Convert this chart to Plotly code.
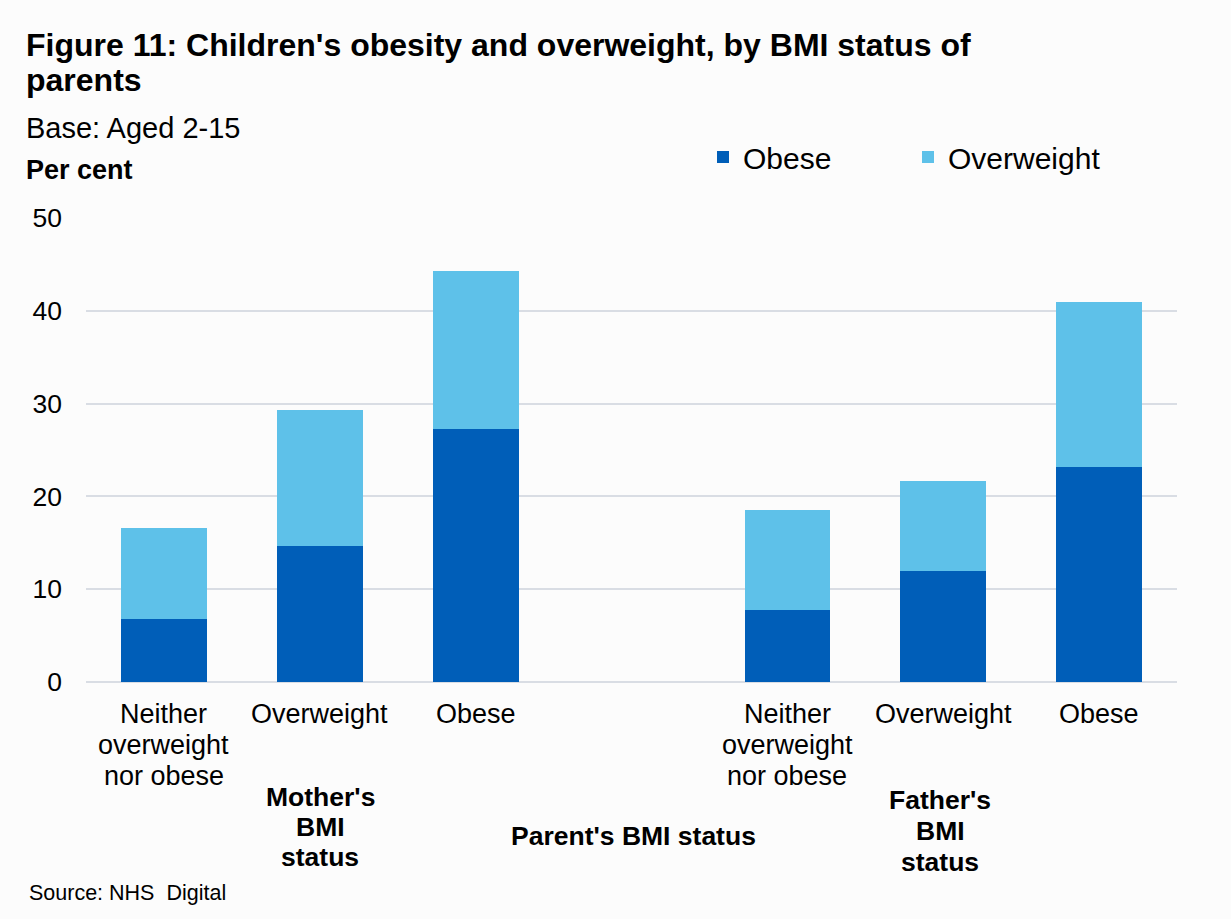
import plotly.graph_objects as go

# Children's obesity / overweight prevalence (%) by parent's BMI status
categories = [
    ["Neither", "overweight", "nor obese"], ["Overweight"], ["Obese"],   # mother's BMI
    ["Neither", "overweight", "nor obese"], ["Overweight"], ["Obese"],   # father's BMI
]
positions = [0, 1, 2, 4, 5, 6]   # slot 3 left empty to separate the two groups
obese = [6.8, 14.7, 27.3, 7.8, 12.0, 23.2]
overweight = [9.8, 14.6, 17.0, 10.7, 9.7, 17.8]
y_ticks = [0, 10, 20, 30, 40, 50]

FONT = "Liberation Sans, Arial, Helvetica, sans-serif"
DARK_BLUE = "#005eb8"
LIGHT_BLUE = "#5ec1e9"
GRID = "#d9dde4"

# plot-area geometry in pixels
W_PX, H_PX = 1231, 919
L, R, T, B = 86, 1177, 218, 682


def fx(p):
    return (p - L) / (R - L)


def fy(p):
    return (B - p) / (B - T)


fig = go.Figure()
fig.add_trace(go.Bar(x=positions, y=obese, name="Obese",
                     marker=dict(color=DARK_BLUE, line=dict(width=0)), width=0.55))
fig.add_trace(go.Bar(x=positions, y=overweight, name="Overweight",
                     marker=dict(color=LIGHT_BLUE, line=dict(width=0)), width=0.55))

annotations = []


def text(x, y, s, size, bold=False, xanchor="left"):
    annotations.append(dict(
        x=fx(x), y=fy(y), xref="paper", yref="paper", xanchor=xanchor, yanchor="middle",
        text=f"<b>{s}</b>" if bold else s, showarrow=False,
        font=dict(family=FONT, size=size, color="#000000"), align="center",
    ))


# category labels under each bar, one line at a time, placed on the x scale
for pos, lines in zip(positions, categories):
    for j, line in enumerate(lines):
        annotations.append(dict(
            x=pos, y=fy(714 + 31 * j), xref="x", yref="paper", xanchor="center",
            yanchor="middle", text=line, showarrow=False,
            font=dict(family=FONT, size=27, color="#000000"),
        ))

text(24, 45, "Figure 11: Children's obesity and overweight, by BMI status of", 32, bold=True)
text(24, 80, "parents", 32, bold=True)
text(24, 128, "Base: Aged 2-15", 29)
text(24, 170, "Per cent", 27, bold=True)
for i, line in enumerate(["Mother's", "BMI", "status"]):
    text(320, 797 + 30 * i, line, 26.5, bold=True, xanchor="center")
for i, line in enumerate(["Father's", "BMI", "status"]):
    text(940, 800 + 31 * i, line, 26.5, bold=True, xanchor="center")
text(633, 836, "Parent's BMI status", 26.5, bold=True, xanchor="center")
text(27, 893, "Source: NHS  Digital", 21.5)

fig.update_layout(
    width=W_PX, height=H_PX,
    margin=dict(l=L, r=W_PX - R, t=T, b=H_PX - B),
    barmode="stack",
    paper_bgcolor="#fcfcfc", plot_bgcolor="#fcfcfc",
    font=dict(family=FONT, color="#000000"),
    showlegend=True,
    legend=dict(orientation="h", x=fx(703), y=fy(157), xanchor="left", yanchor="middle",
                font=dict(size=30, family=FONT), entrywidth=160, traceorder="normal",
                bgcolor="rgba(0,0,0,0)"),
    xaxis=dict(range=[-0.5, 6.5], tickvals=positions, showticklabels=False,
               showgrid=False, zeroline=False, showline=False, ticks="", fixedrange=True),
    yaxis=dict(range=[0, 50], tickvals=y_ticks, showgrid=True, gridcolor=GRID, gridwidth=2,
               zeroline=True, zerolinecolor=GRID, zerolinewidth=2, showline=False, ticks="",
               ticklabelstandoff=23, tickfont=dict(size=26.5, family=FONT), fixedrange=True),
    annotations=annotations,
    bargap=0,
)

fig.write_html("out.html")
